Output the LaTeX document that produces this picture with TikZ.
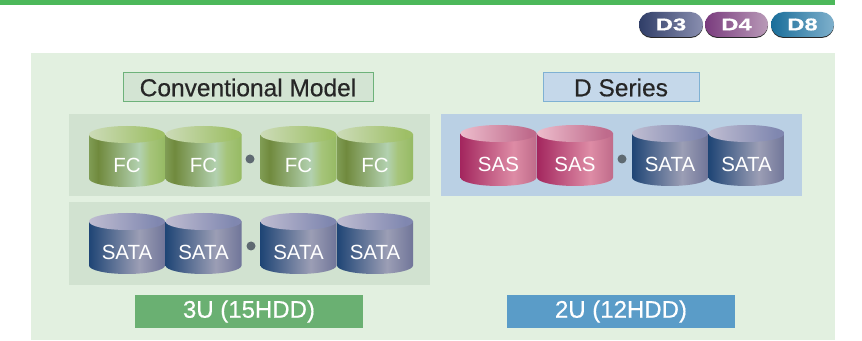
\documentclass[tikz,border=0pt]{standalone}
\usepackage{fontspec}
\setmainfont{Liberation Sans}
\newfontfamily\badgefont[FakeStretch=1.4,FakeBold=0.8]{Liberation Sans}
\newfontfamily\headfont[FakeBold=0.45]{Liberation Sans}
\definecolor{barcol}{HTML}{4CB85A}
\definecolor{panelcol}{HTML}{E2F0E0}
\definecolor{rowgreen}{HTML}{D1E2D0}
\definecolor{rowblue}{HTML}{BAD0E4}
\definecolor{dotcol}{HTML}{5F6A72}
\pgfdeclarehorizontalshading{fcbody}{100bp}{rgb(0bp)=(0.50,0.61,0.33); rgb(25bp)=(0.50,0.61,0.33); rgb(31bp)=(0.44,0.54,0.24); rgb(58bp)=(0.70,0.82,0.69); rgb(65bp)=(0.65,0.77,0.48); rgb(75bp)=(0.59,0.73,0.39); rgb(100bp)=(0.59,0.73,0.39)}
\pgfdeclarehorizontalshading{fctop}{100bp}{rgb(0bp)=(0.80,0.86,0.72); rgb(25bp)=(0.80,0.86,0.72); rgb(70bp)=(0.62,0.75,0.40); rgb(100bp)=(0.62,0.75,0.40)}
\pgfdeclarehorizontalshading{sasbody}{100bp}{rgb(0bp)=(0.64,0.15,0.37); rgb(25bp)=(0.64,0.15,0.37); rgb(60bp)=(0.87,0.55,0.65); rgb(75bp)=(0.75,0.42,0.54); rgb(100bp)=(0.75,0.42,0.54)}
\pgfdeclarehorizontalshading{sastop}{100bp}{rgb(0bp)=(0.93,0.74,0.80); rgb(25bp)=(0.93,0.74,0.80); rgb(70bp)=(0.75,0.42,0.55); rgb(100bp)=(0.75,0.42,0.55)}
\pgfdeclarehorizontalshading{satabody}{100bp}{rgb(0bp)=(0.12,0.27,0.46); rgb(25bp)=(0.12,0.27,0.46); rgb(58bp)=(0.61,0.62,0.71); rgb(75bp)=(0.44,0.46,0.60); rgb(100bp)=(0.44,0.46,0.60)}
\pgfdeclarehorizontalshading{satatop}{100bp}{rgb(0bp)=(0.75,0.74,0.82); rgb(25bp)=(0.75,0.74,0.82); rgb(70bp)=(0.50,0.53,0.69); rgb(100bp)=(0.50,0.53,0.69)}
% name, x, y, kind, text
\newcommand{\disk}[5]{%
	\shade[shading=#4body] ({#2-38},{#3+22}) -- ({#2-38},{#3-22}) arc[start angle=180, end angle=360, x radius=38pt, y radius=8.5pt] -- ({#2+38},{#3+22}) -- cycle;
	\shade[shading=#4top] (#2,{#3+22}) ellipse [x radius=38pt, y radius=8.5pt];
	\draw node[disklabel] at (#2,{#3-8.5}) (#1) {#5};
}
\begin{document}
\begin{tikzpicture}[x=1pt,y=1pt]
	\tikzstyle{place}=[rectangle, inner sep=0pt]
	\tikzstyle{disklabel}=[inner sep=0pt, text=white, font=\fontsize{20.5}{22}\selectfont]
	\tikzstyle{titlebox}=[place, line width=1pt, minimum height=29pt, text=black!85, font=\headfont\fontsize{24.5}{26}\selectfont]
	\tikzstyle{sizebox}=[place, minimum width=228pt, minimum height=33pt, text=white, font=\headfont\fontsize{24}{26}\selectfont]
	\tikzstyle{row}=[place, minimum width=361pt, minimum height=82.5pt]
	\tikzstyle{sep}=[circle, fill=dotcol, inner sep=0pt, minimum size=9pt]
	\tikzstyle{badge}=[place, rounded corners=12.5pt, minimum height=25pt, text=white, font=\badgefont\bfseries\fontsize{17}{18}\selectfont, preaction={fill=black!85, transform canvas={yshift=-1pt}}]
	\useasboundingbox (0,0) rectangle (862,340);
	\fill[white] (0,0) rectangle (862,340);
	\draw node[place, fill=barcol, minimum width=835pt, minimum height=5pt] at (417.5,337.5) (bar) {};
	\draw node[place, fill=panelcol, minimum width=804pt, minimum height=287pt] at (433,143.5) (panel) {};

	\draw node[badge, minimum width=64pt, left color={rgb,255:red,48;green,62;blue,104}, right color={rgb,255:red,138;green,143;blue,176}] at (671,315.5) (d3) {D3};
	\draw node[badge, minimum width=63pt, left color={rgb,255:red,122;green,60;blue,126}, right color={rgb,255:red,185;green,154;blue,184}] at (736.5,315.5) (d4) {D4};
	\draw node[badge, minimum width=63pt, left color={rgb,255:red,26;green,110;blue,154}, right color={rgb,255:red,127;green,176;blue,204}] at (802.5,315.5) (d8) {D8};

	\draw node[titlebox, draw={rgb,255:red,109;green,178;blue,122}, fill={rgb,255:red,211;green,228;blue,211}, minimum width=250pt] at (248,252.5) (titleconv) {Conventional Model};
	\draw node[titlebox, draw={rgb,255:red,127;green,177;blue,211}, fill={rgb,255:red,197;green,216;blue,234}, minimum width=156pt] at (621,252.5) (titled) {D Series};

	\draw node[row, fill=rowgreen] at (249.5,184.75) (rowfc) {};
	\draw node[row, fill=rowgreen, minimum height=83pt] at (249.5,96.5) (rowsata) {};
	\draw node[row, fill=rowblue] at (621.5,184.75) (rowd) {};

	\disk{fca}{127}{183.5}{fc}{FC}
	\disk{fcb}{203.5}{183.5}{fc}{FC}
	\disk{fcc}{298.5}{183.5}{fc}{FC}
	\disk{fcd}{375}{183.5}{fc}{FC}
	\draw node[sep] at (250,181) (sepfc) {};

	\disk{sataa}{127}{96.5}{sata}{SATA}
	\disk{satab}{203.5}{96.5}{sata}{SATA}
	\disk{satac}{298.5}{96.5}{sata}{SATA}
	\disk{satad}{375}{96.5}{sata}{SATA}
	\draw node[sep] at (251,94) (sepsata) {};

	\disk{sasa}{498.5}{184.5}{sas}{SAS}
	\disk{sasb}{575}{184.5}{sas}{SAS}
	\disk{satae}{670}{184.5}{sata}{SATA}
	\disk{sataf}{746.5}{184.5}{sata}{SATA}
	\draw node[sep] at (622,181) (sepd) {};

	\draw node[sizebox, fill={rgb,255:red,106;green,176;blue,114}] at (249,28.5) (sizeconv) {3U (15HDD)};
	\draw node[sizebox, fill={rgb,255:red,90;green,156;blue,200}] at (621,28.5) (sized) {2U (12HDD)};
\end{tikzpicture}
\end{document}
